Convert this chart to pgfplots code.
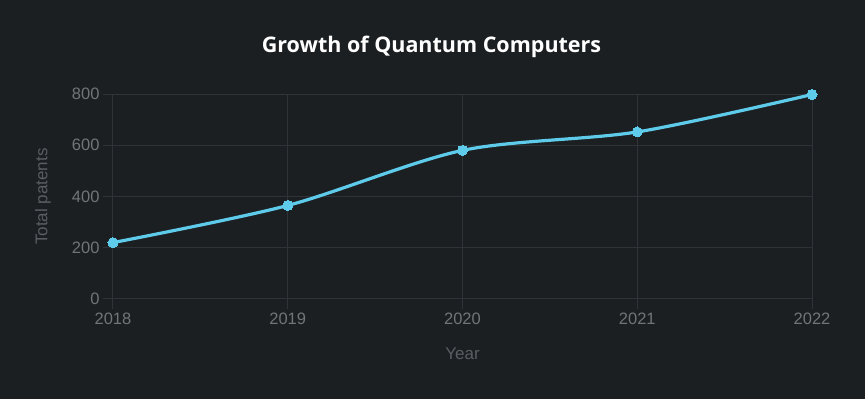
\documentclass[border=0pt]{standalone}
\usepackage{pgfplots}
\pgfplotsset{compat=1.18}
\usepackage{fontspec}
\setmainfont{Liberation Sans}
\newfontfamily\titlefont{Open Sans}
\definecolor{bg}{HTML}{1B1F22}
\definecolor{gridc}{HTML}{2E3337}
\definecolor{tickc}{HTML}{717578}
\definecolor{labc}{HTML}{5A5E62}
\definecolor{linec}{HTML}{5ECBEA}
\begin{document}
\begin{tikzpicture}[x=1pt,y=1pt]
\fill[bg] (0,0) rectangle (865,399);
\useasboundingbox (0,0) rectangle (865,399);
\node[text=white, font=\titlefont\bfseries\fontsize{21.5}{25}\selectfont] at (431.5,352) {Growth of Quantum Computers};
\begin{axis}[
  at={(113pt,100pt)}, anchor=south west,
  scale only axis, width=699pt, height=205pt,
  xmin=2018, xmax=2022, ymin=0, ymax=800,
  xtick={2018,2019,2020,2021,2022},
  ytick={0,200,400,600,800},
  /pgf/number format/1000 sep={},
  /pgf/number format/assume math mode=true,
  axis x line*=bottom, axis y line*=left,
  axis line style={draw=gridc, line width=1pt, -},
  grid=major,
  grid style={draw=gridc, line width=1pt},
  tick style={draw=gridc, line width=1pt},
  major tick length=10pt,
  tick align=outside,
  ticklabel style={text=tickc, font=\fontsize{16.5}{19}\selectfont},
  xlabel={Year}, ylabel={Total patents},
  label style={text=labc, font=\fontsize{17}{20}\selectfont},
  xlabel style={at={(axis description cs:0.5,-0.268)}, anchor=center},
  ylabel style={at={(axis description cs:-0.1,0.5)}, anchor=center, rotate=0},
  clip=false,
]
\addplot[linec, line width=3.2pt, smooth, tension=0.5, mark=*, mark size=5pt, mark options={fill=linec, draw=linec, line width=0pt}]
  coordinates {(2018,220) (2019,365) (2020,580) (2021,652) (2022,798)};
\end{axis}
\end{tikzpicture}
\end{document}
